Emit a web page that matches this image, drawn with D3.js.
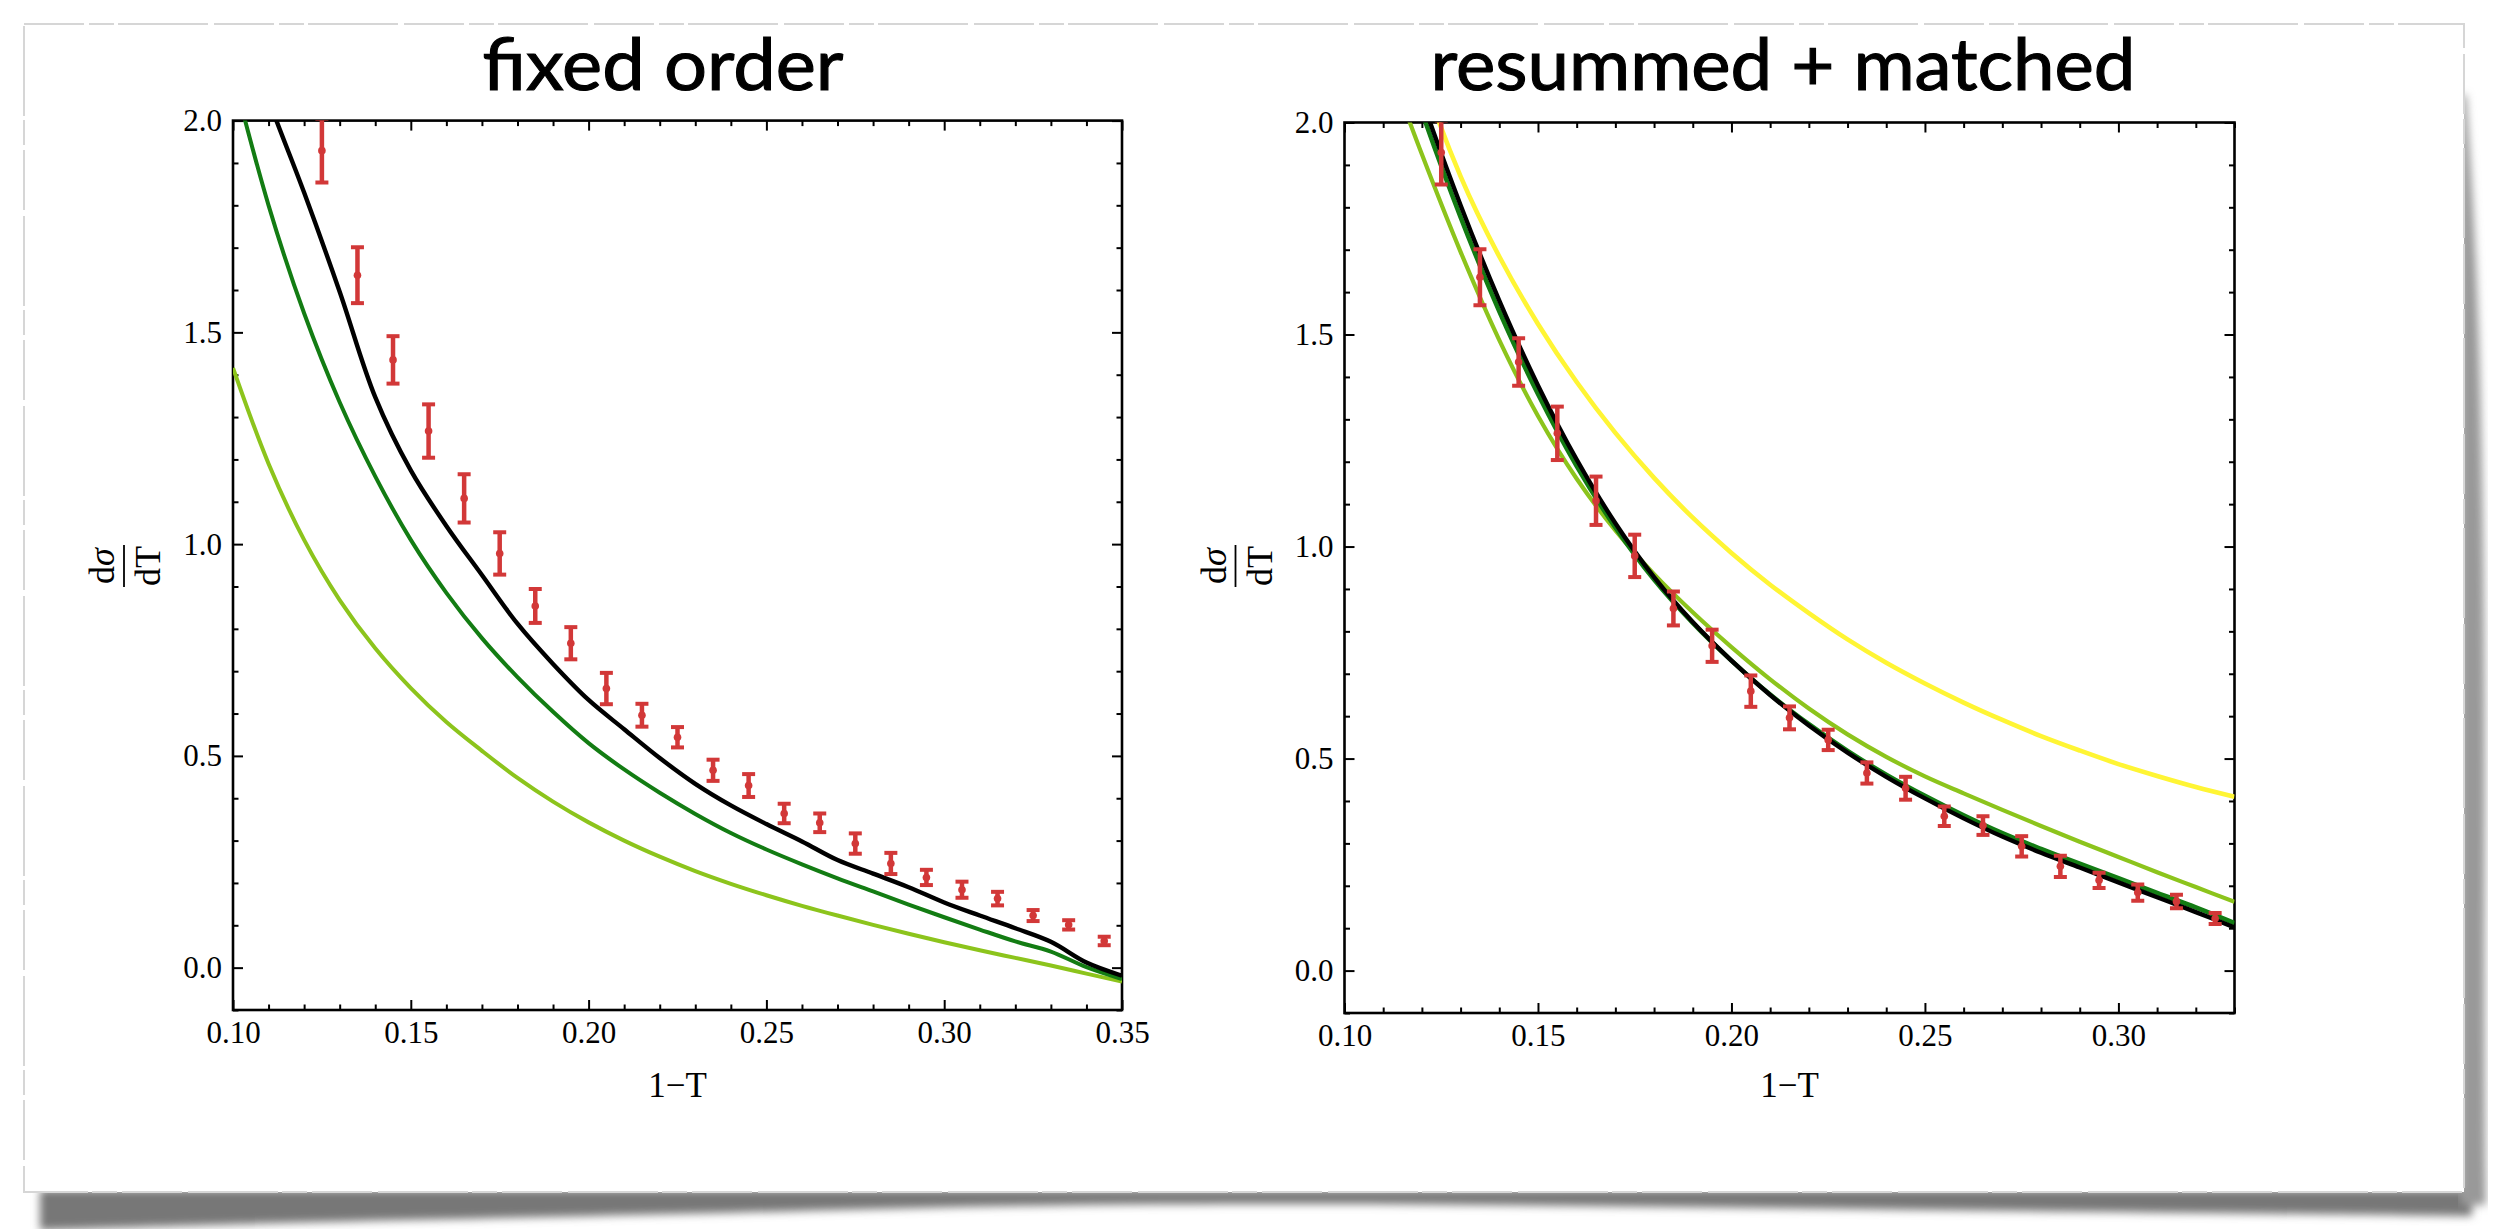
<!DOCTYPE html>
<html lang="en">
<head>
<meta charset="utf-8">
<title>fixed order vs resummed + matched</title>
<script src="https://cdn.jsdelivr.net/npm/d3@7"></script>
<style>
  body { margin: 0; background: #fff; }
  svg { display: block; }
  .tick text { font-family: "Liberation Serif", "Times New Roman", serif; font-size: 31px; fill: #000; }
  .tick line { stroke: #000; stroke-width: 2; }
  .title { font-family: Lato, "Open Sans", sans-serif; font-size: 71px; font-weight: normal; fill: #000; stroke: #000; stroke-width: 1.1; }
  .lab { font-family: "Liberation Serif", "Times New Roman", serif; fill: #000; }
</style>
</head>
<body>
<script>
// measured points (same data in both panels)
var dataX   = [0.125, 0.135, 0.145, 0.155, 0.165, 0.175, 0.185, 0.195, 0.205, 0.215, 0.225, 0.235,
               0.245, 0.255, 0.265, 0.275, 0.285, 0.295, 0.305, 0.315, 0.325, 0.335, 0.345];
var dataY   = [1.929, 1.635, 1.435, 1.267, 1.108, 0.978, 0.854, 0.766, 0.659, 0.596, 0.544, 0.466,
               0.430, 0.364, 0.342, 0.293, 0.246, 0.213, 0.184, 0.163, 0.123, 0.101, 0.063];
var dataErr = [0.075, 0.066, 0.056, 0.063, 0.057, 0.050, 0.040, 0.038, 0.037, 0.027, 0.024, 0.025,
               0.027, 0.023, 0.022, 0.024, 0.025, 0.018, 0.019, 0.016, 0.013, 0.011, 0.010];

// fixed order curves
var foX     = [0.10, 0.11, 0.12, 0.13, 0.14, 0.15, 0.16, 0.17, 0.18, 0.19, 0.20, 0.21, 0.22,
               0.23, 0.24, 0.25, 0.26, 0.27, 0.28, 0.29, 0.30, 0.31, 0.32, 0.33, 0.34, 0.35];
var foLight = [1.416, 1.19, 1.01, 0.868, 0.754, 0.66, 0.58, 0.512, 0.448, 0.392, 0.343, 0.30, 0.262,
               0.228, 0.198, 0.171, 0.146, 0.123, 0.101, 0.08, 0.06, 0.041, 0.023, 0.005, -0.014, -0.033];
var foDark  = [2.11, 1.80, 1.545, 1.335, 1.16, 1.01, 0.885, 0.778, 0.686, 0.604, 0.53, 0.468, 0.413,
               0.363, 0.318, 0.279, 0.244, 0.211, 0.18, 0.149, 0.119, 0.09, 0.062, 0.038, 0.001, -0.027];
var foBlack = [2.30, 2.05, 1.83, 1.596, 1.347, 1.174, 1.043, 0.927, 0.812, 0.717, 0.632, 0.563, 0.495,
               0.434, 0.383, 0.339, 0.298, 0.254, 0.222, 0.19, 0.154, 0.123, 0.093, 0.061, 0.012, -0.019];

// resummed + matched curves
var rmX      = [0.11, 0.12, 0.13, 0.14, 0.15, 0.16, 0.17, 0.18, 0.19, 0.20, 0.21, 0.22,
                0.23, 0.24, 0.25, 0.26, 0.27, 0.28, 0.29, 0.30, 0.31, 0.32, 0.33];
var rmYellow = [2.45, 2.118, 1.873, 1.684, 1.525, 1.388, 1.268, 1.162, 1.068, 0.985, 0.91, 0.843,
                0.781, 0.726, 0.677, 0.632, 0.591, 0.553, 0.519, 0.487, 0.459, 0.433, 0.41];
var rmLight  = [2.17, 1.925, 1.695, 1.487, 1.308, 1.16, 1.038, 0.935, 0.845, 0.763, 0.687, 0.618,
                0.557, 0.504, 0.458, 0.418, 0.379, 0.341, 0.304, 0.268, 0.232, 0.197, 0.162];
var rmDark   = [2.30, 2.025, 1.777, 1.555, 1.36, 1.19, 1.045, 0.922, 0.82, 0.731, 0.651, 0.581,
                0.518, 0.462, 0.412, 0.366, 0.324, 0.287, 0.252, 0.218, 0.183, 0.149, 0.112];
var rmBlack  = [2.33, 2.055, 1.805, 1.58, 1.38, 1.205, 1.055, 0.928, 0.822, 0.731, 0.65, 0.578,
                0.514, 0.457, 0.406, 0.359, 0.316, 0.278, 0.243, 0.208, 0.173, 0.138, 0.102];

var xTicksLeft  = [0.10, 0.15, 0.20, 0.25, 0.30, 0.35];
var xTicksRight = [0.10, 0.15, 0.20, 0.25, 0.30];
var yTicks      = [0.0, 0.5, 1.0, 1.5, 2.0];

var W = 2506, H = 1229;
var svg = d3.select("body").append("svg").attr("width", W).attr("height", H);
var defs = svg.append("defs");
defs.append("filter").attr("id", "blur").attr("x", "-5%").attr("y", "-50%").attr("width", "110%").attr("height", "200%")
  .append("feGaussianBlur").attr("stdDeviation", 4);

// paper sheet + shadow
var shBottom = [[40, 40], [300, 32], [700, 24], [1000, 15], [1300, 13], [1700, 17], [2100, 22], [2472, 26]];
svg.append("path")
  .attr("d", d3.area().x(function(d){return d[0];}).y0(1190).y1(function(d){return 1190 + d[1];}).curve(d3.curveBasis)(shBottom))
  .attr("fill", "#777").attr("filter", "url(#blur)");
var shRight = [[95, 6], [300, 20], [700, 26], [1000, 24], [1205, 26]];
svg.append("path")
  .attr("d", d3.area().y(function(d){return d[0];}).x0(2460).x1(function(d){return 2460 + d[1];}).curve(d3.curveBasis)(shRight))
  .attr("fill", "#999").attr("filter", "url(#blur)");
svg.append("rect").attr("x", 24).attr("y", 24).attr("width", 2440).attr("height", 1168)
  .attr("fill", "#fff").attr("stroke", "#d6d6d6").attr("stroke-width", 2)
  .attr("stroke-dasharray", "60 5 25 4 90 6");

function panel(o) {
  var x = d3.scaleLinear().domain(o.xDomain).range([o.left, o.right]);
  var y = d3.scaleLinear().domain([-0.1, 2.0]).range([o.bottom, o.top]);
  var g = svg.append("g");
  var clipId = "clip" + o.id;
  defs.append("clipPath").attr("id", clipId).append("rect")
    .attr("x", o.left).attr("y", o.top).attr("width", o.right - o.left).attr("height", o.bottom - o.top);

  var xMinor = d3.range(Math.round(o.xDomain[0] * 100), Math.round(o.xDomain[1] * 100) + 1)
    .filter(function(k){ return k % 5 !== 0; }).map(function(k){ return k / 100; });
  var yMinor = d3.range(-1, 21).filter(function(k){ return k % 5 !== 0; }).map(function(k){ return k / 10; });

  function ax(gen, scale, vals, size, fmt, tr) {
    var a = gen(scale).tickValues(vals).tickSizeInner(-size).tickSizeOuter(0).tickPadding(11)
      .tickFormat(fmt ? d3.format(fmt) : "");
    var s = g.append("g").attr("transform", tr).call(a);
    s.select(".domain").remove();
    return s;
  }
  ax(d3.axisBottom, x, o.xTicks, 10, ".2f", "translate(0," + o.bottom + ")");
  ax(d3.axisBottom, x, xMinor, 5.5, null, "translate(0," + o.bottom + ")");
  ax(d3.axisTop, x, o.xTicks, 10, null, "translate(0," + o.top + ")");
  ax(d3.axisTop, x, xMinor, 5.5, null, "translate(0," + o.top + ")");
  ax(d3.axisLeft, y, yTicks, 10, ".1f", "translate(" + o.left + ",0)");
  ax(d3.axisLeft, y, yMinor, 5.5, null, "translate(" + o.left + ",0)");
  ax(d3.axisRight, y, yTicks, 10, null, "translate(" + o.right + ",0)");
  ax(d3.axisRight, y, yMinor, 5.5, null, "translate(" + o.right + ",0)");

  g.append("rect").attr("x", o.left).attr("y", o.top).attr("width", o.right - o.left).attr("height", o.bottom - o.top)
    .attr("fill", "none").attr("stroke", "#000").attr("stroke-width", 2.6);

  var plot = g.append("g").attr("clip-path", "url(#" + clipId + ")");
  var line = d3.line().x(function(d){ return x(d[0]); }).y(function(d){ return y(d[1]); })
    .curve(d3.curveCatmullRom.alpha(0.5));
  o.curves.forEach(function(c) {
    plot.append("path").datum(d3.zip(o.cx, c.v)).attr("d", line)
      .attr("fill", "none").attr("stroke", c.color).attr("stroke-width", c.w)
      .attr("stroke-linejoin", "round");
  });

  var pts = d3.range(dataX.length).filter(function(i){ return dataX[i] <= o.xDomain[1]; })
    .map(function(i){ return { x: dataX[i], y: dataY[i], e: dataErr[i] }; });
  var red = "#d23838";
  var eb = plot.selectAll("g.eb").data(pts).enter().append("g").attr("class", "eb");
  eb.append("line").attr("x1", function(d){ return x(d.x); }).attr("x2", function(d){ return x(d.x); })
    .attr("y1", function(d){ return y(d.y - d.e); }).attr("y2", function(d){ return y(d.y + d.e); })
    .attr("stroke", red).attr("stroke-width", 4.5);
  [-1, 1].forEach(function(s) {
    eb.append("line").attr("x1", function(d){ return x(d.x) - 6.5; }).attr("x2", function(d){ return x(d.x) + 6.5; })
      .attr("y1", function(d){ return y(d.y + s * d.e); }).attr("y2", function(d){ return y(d.y + s * d.e); })
      .attr("stroke", red).attr("stroke-width", 4);
  });
  eb.append("circle").attr("cx", function(d){ return x(d.x); }).attr("cy", function(d){ return y(d.y); })
    .attr("r", 3.8).attr("fill", red);

  // titles and axis labels
  svg.append("text").attr("class", "title").attr("x", o.titleX).attr("y", 90)
    .attr("text-anchor", "middle").attr("textLength", o.titleW).attr("lengthAdjust", "spacingAndGlyphs")
    .text(o.title);
  svg.append("text").attr("class", "lab").attr("x", (o.left + o.right) / 2).attr("y", 1097)
    .attr("text-anchor", "middle").attr("font-size", 35).text("1\u2212T");
  var yl = svg.append("g").attr("transform", "translate(" + (o.left - 109) + ",566) rotate(-90)");
  var num = yl.append("text").attr("class", "lab").attr("text-anchor", "middle").attr("y", -10).attr("font-size", 36);
  num.append("tspan").text("d");
  num.append("tspan").attr("font-style", "italic").text("\u03C3");
  yl.append("line").attr("x1", -21).attr("x2", 21).attr("stroke", "#000").attr("stroke-width", 1.8);
  yl.append("text").attr("class", "lab").attr("text-anchor", "middle").attr("y", 36).attr("font-size", 36).text("dT");
}

var lightGreen = "#8cc41c", darkGreen = "#137c13", yellow = "#fff534";

panel({ id: 1, left: 233, right: 1122, top: 120.6, bottom: 1010, xDomain: [0.10, 0.35], xTicks: xTicksLeft,
  title: "fixed order", titleX: 663, titleW: 361, cx: foX,
  curves: [ { v: foLight, color: lightGreen, w: 4 }, { v: foDark, color: darkGreen, w: 4 }, { v: foBlack, color: "#000", w: 4.4 } ] });

panel({ id: 2, left: 1344.5, right: 2234.5, top: 122.5, bottom: 1013, xDomain: [0.10, 0.33], xTicks: xTicksRight,
  title: "resummed + matched", titleX: 1783, titleW: 705, cx: rmX,
  curves: [ { v: rmYellow, color: yellow, w: 4.6 }, { v: rmLight, color: lightGreen, w: 4.2 },
            { v: rmDark, color: darkGreen, w: 4.6 }, { v: rmBlack, color: "#000", w: 4.4 } ] });
</script>
</body>
</html>
